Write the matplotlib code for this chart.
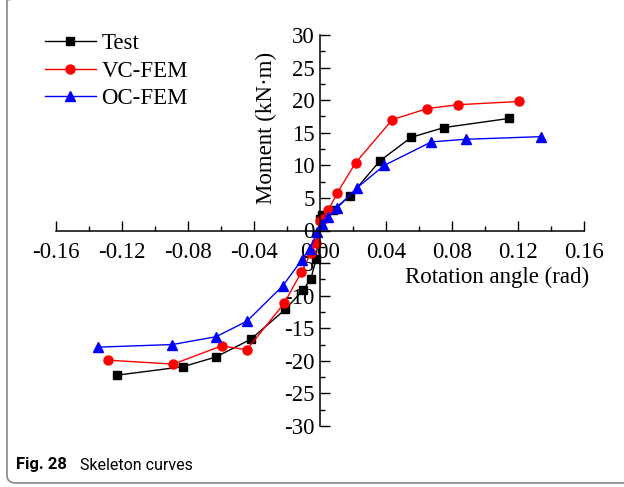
import matplotlib
matplotlib.use('Agg')
import matplotlib.pyplot as plt
from matplotlib.patches import FancyBboxPatch
from matplotlib.ticker import MultipleLocator, FormatStrFormatter

plt.rcParams['font.family'] = 'Liberation Serif'
plt.rcParams['axes.unicode_minus'] = False

# skeleton curve data
test_x = [-0.123, -0.083, -0.063, -0.042, -0.021, -0.0105, -0.0055, -0.0024,
          0.0, 0.001, 0.0081, 0.0182, 0.0364, 0.0553, 0.0752, 0.1147]
test_y = [-22.2, -20.9, -19.4, -16.7, -12.1, -9.2, -7.4, -4.4,
          1.8, 2.4, 3.2, 5.3, 10.7, 14.3, 15.8, 17.2]

vc_x = [-0.1285, -0.0889, -0.0596, -0.0444, -0.0218, -0.0113, -0.0056, -0.0024,
        0.0, 0.0016, 0.005, 0.0105, 0.0216, 0.0438, 0.0648, 0.0836, 0.1206]
vc_y = [-19.9, -20.5, -17.7, -18.3, -11.2, -6.4, -3.5, -1.9,
        1.4, 1.8, 3.1, 5.8, 10.4, 17.0, 18.7, 19.3, 19.8]

oc_x = [-0.1347, -0.0895, -0.063, -0.0442, -0.0226, -0.011, -0.0062, -0.0016,
        0.001, 0.005, 0.0101, 0.0222, 0.039, 0.0675, 0.0885, 0.1338]
oc_y = [-17.9, -17.5, -16.3, -13.9, -8.5, -4.5, -2.8, -0.3,
        1.0, 2.0, 3.4, 6.5, 10.0, 13.6, 14.0, 14.4]

fig = plt.figure(figsize=(6.24, 4.87), dpi=100)
ax = fig.add_axes([56/624, 61/487, 528/624, 391/487])

ax.plot(test_x, test_y, color='black', marker='s', markersize=6, linewidth=1, label='Test')
ax.plot(vc_x, vc_y, color='red', marker='o', markersize=6.5, linewidth=1, label='VC-FEM')
ax.plot(oc_x, oc_y, color='blue', marker='^', markersize=7, linewidth=1, label='OC-FEM')

ax.set_xlim(-0.16, 0.16)
ax.set_ylim(-30, 30)
ax.spines['left'].set_position(('data', 0))
ax.spines['bottom'].set_position(('data', 0))
ax.spines['right'].set_visible(False)
ax.spines['top'].set_visible(False)
for s in ('left', 'bottom'):
    ax.spines[s].set_linewidth(1.1)

ax.xaxis.set_major_locator(MultipleLocator(0.04))
ax.xaxis.set_minor_locator(MultipleLocator(0.02))
ax.yaxis.set_major_locator(MultipleLocator(5))
ax.yaxis.set_minor_locator(MultipleLocator(2.5))
ax.xaxis.set_major_formatter(FormatStrFormatter('%.2f'))
ax.tick_params(which='both', direction='in', width=1, labelsize=16.5)
ax.tick_params(which='major', length=7)
ax.tick_params(axis='x', which='major', pad=8)
ax.tick_params(axis='y', which='major', pad=4)
ax.tick_params(which='minor', length=3.5)

ax.set_xlabel('Rotation angle (rad)', fontsize=16.5)
ax.xaxis.set_label_coords((497-56)/528, (487-277-61)/391, transform=ax.transAxes)
ax.set_ylabel('Moment (kN·m)', fontsize=16.5)
ax.yaxis.set_label_coords((266-56)/528, (487-128-61)/391, transform=ax.transAxes)
ax.yaxis.label.set_va('center')
ax.xaxis.label.set_va('center')

ax.legend(loc='upper left', bbox_to_anchor=(-0.038, 1.028), frameon=False, fontsize=16.5,
          handlelength=2.2, handletextpad=0.25, labelspacing=0.28, borderaxespad=0)

# figure frame and caption
frame = FancyBboxPatch((7/624, 4/487), 640/624, 490/487, transform=fig.transFigure,
                       boxstyle='round,pad=0,rounding_size=0.015', facecolor='none',
                       edgecolor='#888888', linewidth=1.2, clip_on=False)
fig.patches.append(frame)
fig.text(16/624, (487-465)/487, 'Fig. 28', fontsize=12, fontweight='bold',
         family='Roboto', va='center', ha='left')
fig.text(80/624, (487-465)/487, 'Skeleton curves', fontsize=11.5,
         family='Roboto', va='center', ha='left')

fig.savefig('out.png', dpi=100)
